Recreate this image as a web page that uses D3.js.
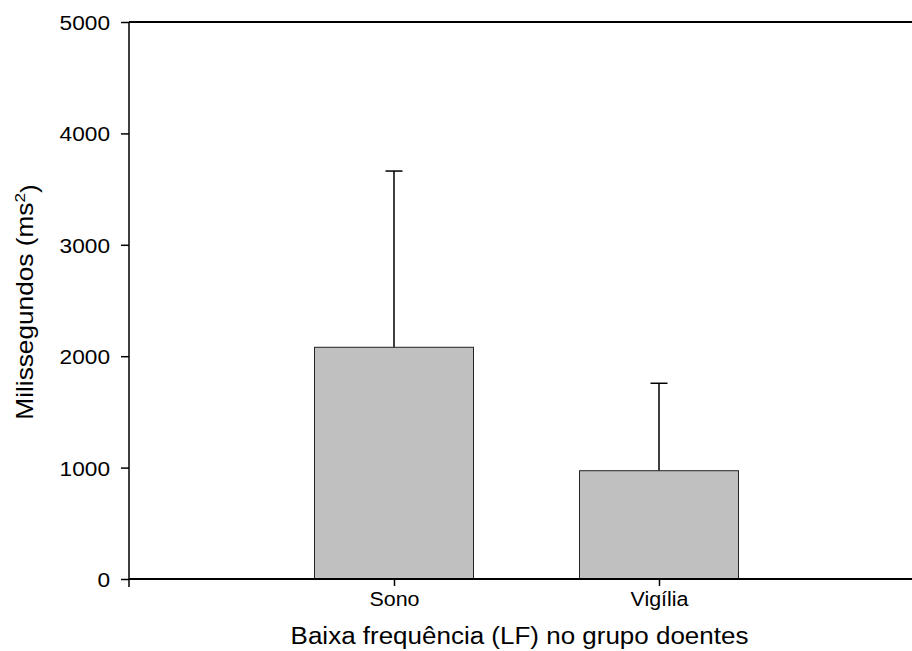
<!DOCTYPE html>
<html>
<head>
<meta charset="utf-8">
<script src="https://cdn.jsdelivr.net/npm/d3@7"></script>
<style>
  html, body { margin: 0; padding: 0; background: #fff; }
  svg { display: block; }
  text { font-family: "Liberation Sans", Arial, sans-serif; fill: #000; }
</style>
</head>
<body>
<svg id="chart" width="912" height="651"></svg>
<script>
// LF power per condition (mean and upper error bar)
const categories = ["Sono", "Vigília"];
const means = [2080, 972];
const upperErrors = [3662, 1757];
const yTicks = [0, 1000, 2000, 3000, 4000, 5000];

const svg = d3.select("#chart");
const plotLeft = 129, plotRight = 912, plotTop = 22, plotBottom = 579;

const x = d3.scalePoint().domain(categories).range([plotLeft, 924]).padding(1);
const y = d3.scaleLinear().domain([0, 5000]).range([plotBottom, plotTop]);
const barWidth = 159;
const capHalf = 8.5;

const rows = categories.map((c, i) => ({ c, mean: means[i], err: upperErrors[i] }));

// error bars (drawn under bars so the stem starts at the bar top)
const eb = svg.append("g").attr("stroke", "#000").attr("stroke-width", 1.5);
eb.selectAll("line.stem").data(rows).join("line").attr("class", "stem")
  .attr("x1", d => x(d.c)).attr("x2", d => x(d.c))
  .attr("y1", d => y(d.mean)).attr("y2", d => y(d.err));
eb.selectAll("line.cap").data(rows).join("line").attr("class", "cap")
  .attr("x1", d => x(d.c) - capHalf).attr("x2", d => x(d.c) + capHalf)
  .attr("y1", d => y(d.err)).attr("y2", d => y(d.err));

// bars
svg.append("g").selectAll("rect").data(rows).join("rect")
  .attr("x", d => x(d.c) - barWidth / 2)
  .attr("width", barWidth)
  .attr("y", d => y(d.mean))
  .attr("height", d => y(0) - y(d.mean))
  .attr("fill", "#c0c0c0")
  .attr("stroke", "#222")
  .attr("stroke-width", 1);

// top frame line
svg.append("line")
  .attr("x1", plotLeft).attr("x2", plotRight)
  .attr("y1", y(5000)).attr("y2", y(5000))
  .attr("stroke", "#000").attr("stroke-width", 2);

// y axis
const yAxis = d3.axisLeft(y).tickValues(yTicks).tickSize(8).tickFormat(d3.format("d"));
const gy = svg.append("g").attr("transform", `translate(${plotLeft},0)`).call(yAxis);
gy.select(".domain").remove();
gy.selectAll(".tick line").attr("stroke", "#000").attr("stroke-width", 1.5);
gy.selectAll(".tick text")
  .attr("x", 0).attr("dy", "0.36em")
  .attr("transform", "translate(-19,0) scale(1.08,1)")
  .style("font-size", "21px");
svg.append("line")
  .attr("x1", plotLeft).attr("x2", plotLeft).attr("y1", plotTop).attr("y2", plotBottom + 8)
  .attr("stroke", "#000").attr("stroke-width", 1.5);

// x axis
const xAxis = d3.axisBottom(x).tickSize(7);
const gx = svg.append("g").attr("transform", `translate(0,${plotBottom})`).call(xAxis);
gx.select(".domain").remove();
gx.selectAll(".tick line").attr("stroke", "#000").attr("stroke-width", 1.5);
gx.selectAll(".tick text")
  .attr("y", 0).attr("dy", 0)
  .attr("transform", "translate(0,26.7) scale(1.1,1)")
  .style("font-size", "19.5px");
svg.append("line")
  .attr("x1", plotLeft).attr("x2", plotRight).attr("y1", plotBottom).attr("y2", plotBottom)
  .attr("stroke", "#000").attr("stroke-width", 2);

// axis titles
svg.append("text")
  .attr("transform", "translate(519.5,643.7) scale(1.13,1)")
  .attr("text-anchor", "middle")
  .style("font-size", "23px")
  .text("Baixa frequência (LF) no grupo doentes");

const yt = svg.append("text")
  .attr("transform", `translate(32.5,302) rotate(-90) scale(1.14,1)`)
  .attr("text-anchor", "middle")
  .style("font-size", "23px");
yt.append("tspan").text("Milissegundos (ms");
yt.append("tspan").attr("dy", "-0.5em").style("font-size", "15px").text("2");
yt.append("tspan").attr("dy", "0.5em").text(")");
</script>
</body>
</html>
